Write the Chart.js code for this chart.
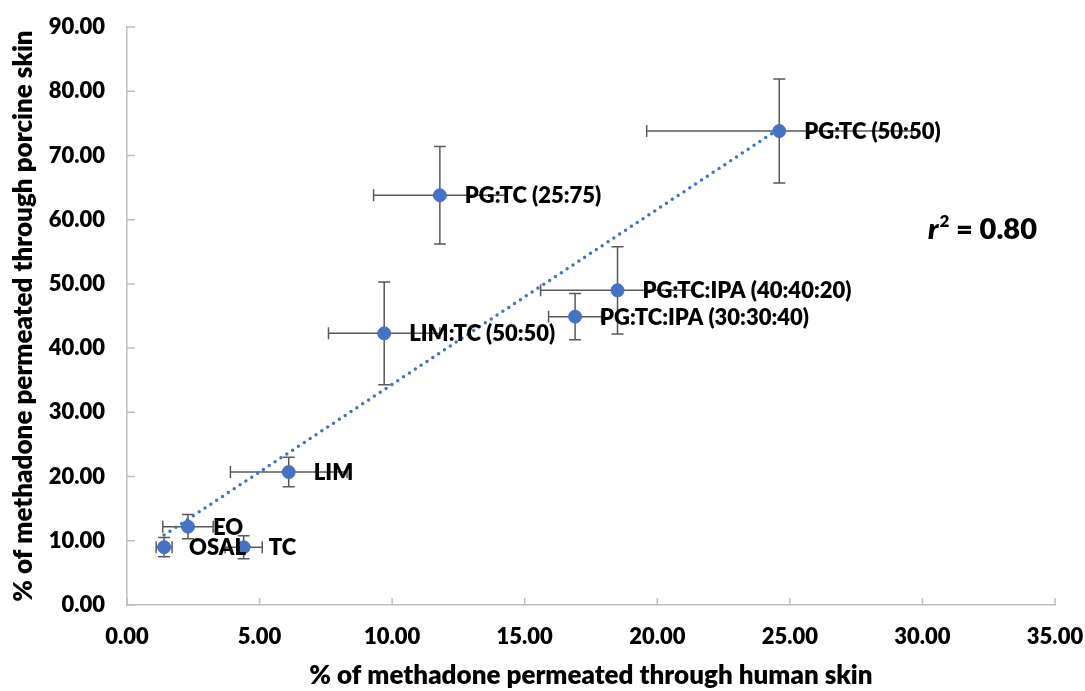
<!DOCTYPE html>
<html>
<head>
<meta charset="utf-8">
<script src="https://cdn.jsdelivr.net/npm/chart.js@4.4.1/dist/chart.umd.min.js"></script>
<style>
  html, body { margin: 0; padding: 0; background: #fff; }
  #wrap { width: 1085px; height: 691px; }
</style>
</head>
<body>
<div id="wrap"><canvas id="perm_chart"></canvas></div>
<script>
const formulations = ['PG:TC (50:50)', 'PG:TC (25:75)', 'PG:TC:IPA (40:40:20)', 'PG:TC:IPA (30:30:40)',
                      'LIM:TC (50:50)', 'LIM', 'EO', 'OSAL', 'TC'];
const humanSkin   = [24.6, 11.8, 18.5, 16.9, 9.7, 6.1, 2.3, 1.4, 4.4];
const porcineSkin = [73.8, 63.8, 49.0, 44.9, 42.3, 20.7, 12.2, 9.0, 9.0];
const humanErr    = [5.0, 2.5, 2.9, 1.0, 2.1, 2.2, 0.95, 0.3, 0.7];
const porcineErr  = [8.1, 7.6, 6.8, 3.6, 8.0, 2.3, 1.9, 1.5, 1.8];
const xTicks = [0, 5, 10, 15, 20, 25, 30, 35];
const yTicks = [0, 10, 20, 30, 40, 50, 60, 70, 80, 90];
const rSquaredText = '0.80';

const blue = '#4472C4';
const barGrey = '#595959';
const axisGrey = '#BFBFBF';
const heavy = '800';

// linear trendline (least squares) across the data range
const n = humanSkin.length;
const mx = humanSkin.reduce((a, b) => a + b, 0) / n;
const my = porcineSkin.reduce((a, b) => a + b, 0) / n;
let sxy = 0, sxx = 0;
for (let i = 0; i < n; i++) {
    sxy += (humanSkin[i] - mx) * (porcineSkin[i] - my);
    sxx += (humanSkin[i] - mx) ** 2;
}
const slope = sxy / sxx;
const intercept = my - slope * mx;
const xMin = Math.min(...humanSkin), xMax = Math.max(...humanSkin);
const trend = [xMin, xMax].map(x => ({ x: x, y: intercept + slope * x }));

const points = humanSkin.map((x, i) => ({ x: x, y: porcineSkin[i] }));

Chart.defaults.font.family = 'Lato';
Chart.defaults.font.weight = heavy;
Chart.defaults.color = '#000';

const errorBars = {
    id: 'errorBars',
    beforeDatasetsDraw(chart) {
        const { ctx, scales: { x, y } } = chart;
        ctx.save();
        ctx.strokeStyle = barGrey;
        ctx.lineWidth = 1.5;
        const cap = 6;
        for (let i = 0; i < n; i++) {
            const px = x.getPixelForValue(humanSkin[i]);
            const py = y.getPixelForValue(porcineSkin[i]);
            const x0 = x.getPixelForValue(humanSkin[i] - humanErr[i]);
            const x1 = x.getPixelForValue(humanSkin[i] + humanErr[i]);
            const y0 = y.getPixelForValue(porcineSkin[i] - porcineErr[i]);
            const y1 = y.getPixelForValue(porcineSkin[i] + porcineErr[i]);
            ctx.beginPath();
            ctx.moveTo(x0, py); ctx.lineTo(x1, py);
            ctx.moveTo(x0, py - cap); ctx.lineTo(x0, py + cap);
            ctx.moveTo(x1, py - cap); ctx.lineTo(x1, py + cap);
            ctx.moveTo(px, y0); ctx.lineTo(px, y1);
            ctx.moveTo(px - cap, y0); ctx.lineTo(px + cap, y0);
            ctx.moveTo(px - cap, y1); ctx.lineTo(px + cap, y1);
            ctx.stroke();
        }
        ctx.restore();
    },
    afterDatasetsDraw(chart) {
        const { ctx, scales: { x, y }, chartArea } = chart;
        ctx.save();
        // point labels
        ctx.fillStyle = '#000';
        ctx.font = heavy + ' 22px Lato';
        ctx.textBaseline = 'middle';
        ctx.textAlign = 'left';
        for (let i = 0; i < n; i++) {
            const px = x.getPixelForValue(humanSkin[i]);
            const py = y.getPixelForValue(porcineSkin[i]);
            ctx.fillText(formulations[i], px + 25, py + 1);
        }
        // inside tick marks
        ctx.strokeStyle = axisGrey;
        ctx.lineWidth = 1.5;
        ctx.beginPath();
        xTicks.forEach(v => {
            const px = x.getPixelForValue(v);
            ctx.moveTo(px, chartArea.bottom); ctx.lineTo(px, chartArea.bottom - 7);
        });
        yTicks.forEach(v => {
            const py = y.getPixelForValue(v);
            ctx.moveTo(chartArea.left, py); ctx.lineTo(chartArea.left + 8, py);
        });
        ctx.stroke();
        // r squared
        const tx = chartArea.right - 127;
        const ty = chartArea.top + 203;
        ctx.font = 'italic ' + heavy + ' 29px Lato';
        ctx.fillText('r', tx, ty);
        let w = ctx.measureText('r').width;
        ctx.font = heavy + ' 17px Lato';
        ctx.fillText('2', tx + w + 1, ty - 8);
        w += ctx.measureText('2').width + 1;
        ctx.font = heavy + ' 29px Lato';
        ctx.fillText(' = ' + rSquaredText, tx + w, ty);
        ctx.restore();
    }
};

function fixBox(s) {
    s.paddingLeft = 0; s.paddingRight = 0;
    s.paddingTop = 0; s.paddingBottom = 0;
}

new Chart(document.getElementById('perm_chart'), {
    type: 'scatter',
    data: {
        datasets: [{
            label: 'Formulations',
            data: points,
            backgroundColor: blue,
            borderColor: blue,
            pointRadius: 6.5,
            pointHoverRadius: 6.5,
        }, {
            type: 'line',
            label: 'Linear trend',
            data: trend,
            borderColor: blue,
            borderWidth: 3.5,
            borderDash: [0, 7],
            borderCapStyle: 'round',
            pointRadius: 0,
            fill: false,
        }]
    },
    options: {
        responsive: true,
        maintainAspectRatio: false,
        animation: false,
        layout: { padding: { top: 27, right: 30, left: 0, bottom: 0 } },
        plugins: {
            legend: { display: false },
            tooltip: { enabled: false }
        },
        scales: {
            x: {
                type: 'linear',
                min: 0,
                max: 35,
                afterFit: s => { s.height = 86; fixBox(s); },
                afterBuildTicks: s => { s.ticks = xTicks.map(v => ({ value: v })); },
                ticks: {
                    padding: 19,
                    font: { size: 22, weight: heavy },
                    color: '#000',
                    callback: v => Number(v).toFixed(2)
                },
                grid: { display: true, drawOnChartArea: false, drawTicks: false },
                border: { display: true, color: axisGrey, width: 1.5 },
                title: {
                    display: true,
                    text: '% of methadone permeated through human skin',
                    font: { size: 26, weight: heavy },
                    color: '#000',
                    padding: { top: 0, bottom: 0 }
                }
            },
            y: {
                type: 'linear',
                min: 0,
                max: 90,
                afterFit: s => { s.width = 127; fixBox(s); },
                afterBuildTicks: s => { s.ticks = yTicks.map(v => ({ value: v })); },
                ticks: {
                    padding: 22,
                    font: { size: 22, weight: heavy },
                    color: '#000',
                    callback: v => Number(v).toFixed(2)
                },
                grid: { display: true, drawOnChartArea: false, drawTicks: false },
                border: { display: true, color: axisGrey, width: 1.5 },
                title: {
                    display: true,
                    text: '% of methadone permeated through porcine skin',
                    font: { size: 26, weight: heavy },
                    color: '#000',
                    padding: { top: 8, bottom: 0 }
                }
            }
        }
    },
    plugins: [errorBars]
});
</script>
</body>
</html>
